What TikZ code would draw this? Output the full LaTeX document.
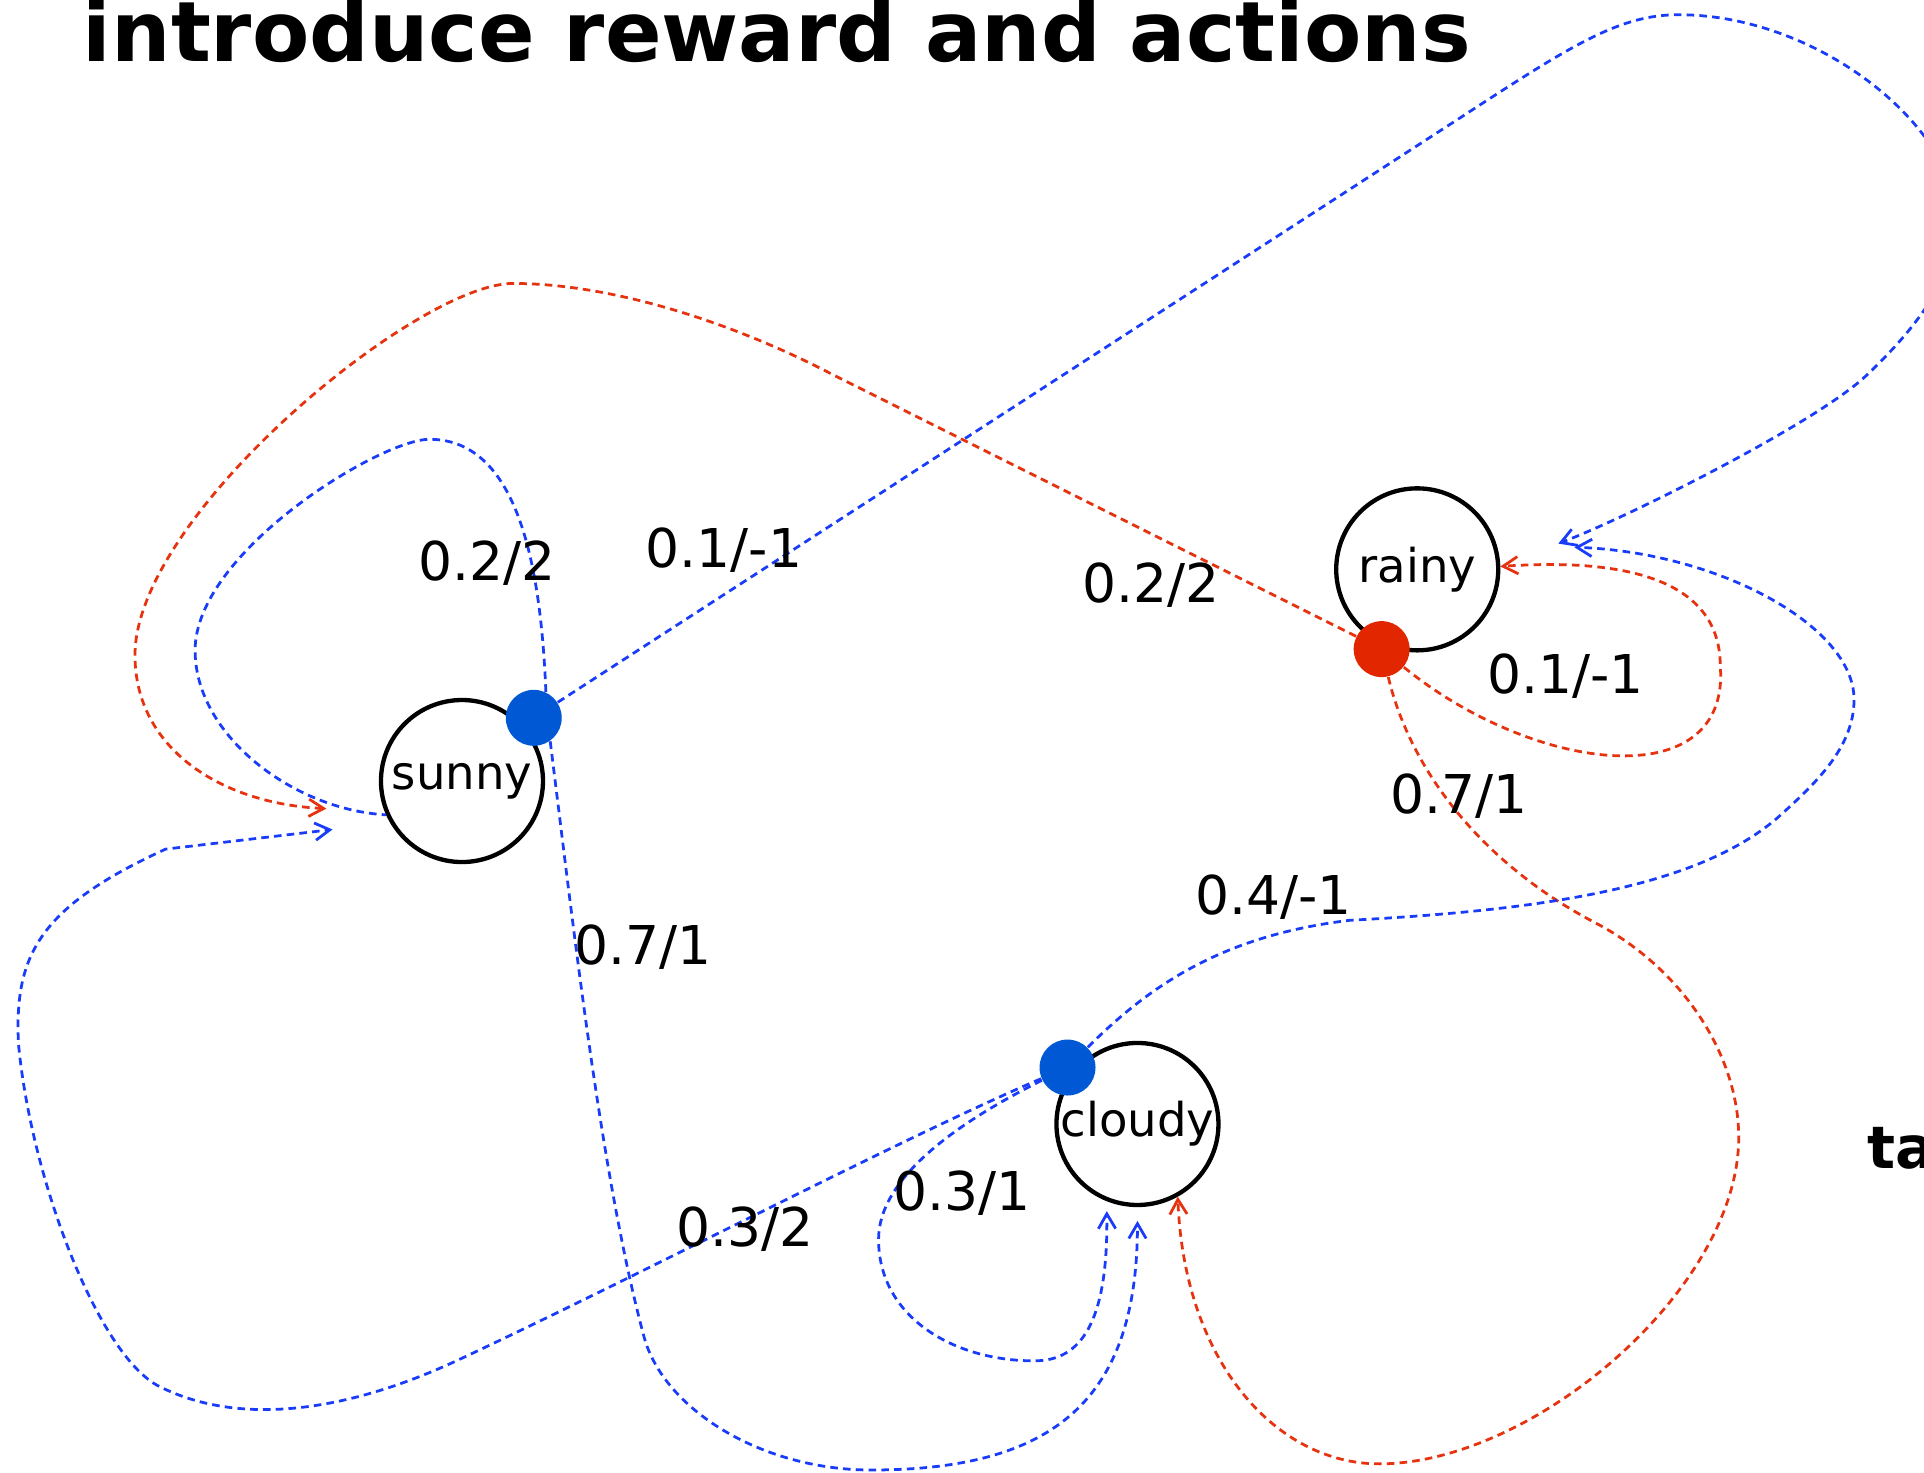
\documentclass[tikz,border=0pt]{standalone}
\usepackage{fontspec}
\setmainfont{DejaVu Sans}
\usepackage{tikz}
\usetikzlibrary{arrows.meta}

\definecolor{actblue}{RGB}{0,88,212}
\definecolor{actred}{RGB}{226,38,0}
\definecolor{edgeblue}{RGB}{25,60,250}
\definecolor{edgered}{RGB}{230,50,15}

\begin{document}
\begin{tikzpicture}[x=0.0125cm,y=-0.0125cm]
    \tikzset{state/.style = {shape=circle,draw,line width=1.25pt,minimum size=1.65cm,inner sep=0pt,font=\fontsize{13.5}{15}\selectfont}}
    \tikzset{actb/.style = {shape=circle,fill=actblue,minimum size=0.57cm,inner sep=0pt}}
    \tikzset{actr/.style = {shape=circle,fill=actred,minimum size=0.57cm,inner sep=0pt}}
    \tikzset{prob/.style = {shape=rectangle,draw=none,inner sep=0pt,font=\fontsize{15.5}{18}\selectfont}}
    \tikzset{edgeb/.style = {draw=edgeblue,line width=0.8pt,dash pattern=on 2.2pt off 1.5pt,-{Straight Barb[length=4.3pt,width=5pt]}}}
    \tikzset{edger/.style = {edgeb,draw=edgered}}

    \useasboundingbox (0,0) rectangle (1568,1200);

    % title
    \node[anchor=base west,inner sep=0pt,font=\fontsize{24.2}{28}\selectfont\bfseries] (title) at (67,50) {introduce reward and actions};
    \node[anchor=base west,inner sep=0pt,font=\fontsize{17}{20}\selectfont\bfseries] (ta) at (1521,952) {ta};

    % vertices
    \node[state] (s) at (376.5,636.5) {sunny};
    \node[state] (r) at (1155,464) {rainy};
    \node[state] (c) at (927,916) {cloudy};
    \node[actb] (sa) at (435,585) {};
    \node[actr] (ra) at (1126,529) {};
    \node[actb] (ca) at (870,870) {};

    % loose arrow ends
    \coordinate (t1) at (1270,443);
    \coordinate (t2) at (1283,446);
    \coordinate (t3) at (271,676);
    \coordinate (t4) at (266,659);
    \coordinate (t5) at (902,987);
    \coordinate (t6) at (927,995);

    % edges out of sunny
    \draw[edgeb,-] (sa.65) .. controls (441,470) and (425,358) .. (350,358)
        .. controls (310,358) and (159,450) .. (159,530)
        .. controls (159,600) and (240,660) .. (s.204);
    \draw[edgeb] (sa) -- (1190,96) .. controls (1282,36) and (1320,12) .. (1368,12)
        .. controls (1480,12) and (1590,100) .. (1595,175)
        .. controls (1595,215) and (1575,255) .. (1521,306)
        .. controls (1481,344) and (1330,420) .. (t1);
    \draw[edgeb] (sa.-55) .. controls (468,760) and (490,960) .. (525,1090)
        .. controls (541,1148) and (620,1198) .. (710,1198)
        .. controls (860,1198) and (927,1140) .. (t6);

    % edges out of rainy
    \draw[edger] (ra) -- (680,306) .. controls (600,264) and (500,231) .. (418,231)
        .. controls (340,231) and (110,420) .. (110,534)
        .. controls (110,610) and (180,655) .. (t4);
    \draw[edger] (ra) .. controls (1250,630) and (1410,650) .. (1402,543)
        .. controls (1402,470) and (1320,455) .. (r.2);
    \draw[edger] (ra) .. controls (1150,630) and (1210,705) .. (1300,752)
        .. controls (1371,789) and (1417,860) .. (1417,927)
        .. controls (1417,1050) and (1250,1193) .. (1124,1193)
        .. controls (1040,1193) and (965,1110) .. (c.-61);

    % edges out of cloudy
    \draw[edgeb] (ca) .. controls (940,800) and (1000,762) .. (1100,750)
        .. controls (1250,742) and (1380,725) .. (1448,667)
        .. controls (1478,640) and (1511,610) .. (1511,570)
        .. controls (1511,510) and (1400,450) .. (t2);
    \draw[edgeb] (ca) .. controls (780,915) and (716,960) .. (716,1010)
        .. controls (716,1075) and (780,1110) .. (845,1109)
        .. controls (885,1108) and (903,1070) .. (t5);
    \draw[edgeb] (ca) .. controls (740,925) and (520,1040) .. (372,1109)
        .. controls (290,1147) and (200,1165) .. (130,1130)
        .. controls (80,1105) and (25,960) .. (15,850)
        .. controls (12,780) and (30,740) .. (135,692) -- (t3);

    % probabilities / rewards
    \node[prob] (p1) at (397,459) {0.2/2};
    \node[prob] (p2) at (590,448) {0.1/-1};
    \node[prob] (p3) at (938,477) {0.2/2};
    \node[prob] (p4) at (1276,551) {0.1/-1};
    \node[prob] (p5) at (1189,649) {0.7/1};
    \node[prob] (p6) at (1038,731) {0.4/-1};
    \node[prob] (p7) at (524,772) {0.7/1};
    \node[prob] (p8) at (784,972) {0.3/1};
    \node[prob] (p9) at (607,1002) {0.3/2};
\end{tikzpicture}
\end{document}
